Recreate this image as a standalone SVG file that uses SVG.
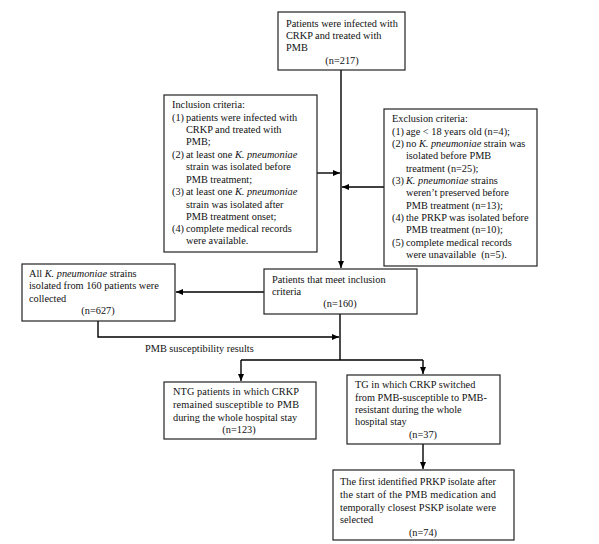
<svg xmlns="http://www.w3.org/2000/svg" width="599" height="544" viewBox="0 0 599 544">
<defs>
<marker id="ah" markerUnits="userSpaceOnUse" markerWidth="8" markerHeight="7" refX="7" refY="3" orient="auto">
<path d="M0,0 L7,3 L0,6 z" fill="#000"/>
</marker>
<style>
.box{fill:#fff;stroke:#222;stroke-width:1.2}
.t{font-family:"Liberation Serif","Times New Roman",serif;font-size:10.3px;fill:#111}
.i{font-style:italic}
.c{text-anchor:middle}
.ln{fill:none;stroke:#000;stroke-width:1.4}
</style>
</defs>
<rect width="599" height="544" fill="#fff"/>
<g id="connectors">
<path class="ln" d="M341 70 V268" marker-end="url(#ah)"/>
<path class="ln" d="M317 173 H340" marker-end="url(#ah)"/>
<path class="ln" d="M384 187 H342" marker-end="url(#ah)"/>
<path class="ln" d="M264 292 H176" marker-end="url(#ah)"/>
<path class="ln" d="M98 321 V337 H339" marker-end="url(#ah)"/>
<path class="ln" d="M340 314 V360 M241 360 H423"/>
<path class="ln" d="M241 360 V381" marker-end="url(#ah)"/>
<path class="ln" d="M423 360 V374" marker-end="url(#ah)"/>
<path class="ln" d="M423 444 V469" marker-end="url(#ah)"/>
</g>
<g id="n-top">
<rect class="box" x="278" y="12" width="127" height="58"/>
<text class="t" x="286" y="27">Patients were infected with</text>
<text class="t" x="286" y="39">CRKP and treated with</text>
<text class="t" x="286" y="51">PMB</text>
<text class="t c" x="342" y="64">(n=217)</text>
</g>
<g id="n-inclusion">
<rect class="box" x="164" y="95" width="153" height="157"/>
<text class="t" x="172" y="108">Inclusion criteria:</text>
<text class="t" x="172" y="121">(1)</text><text class="t" x="186" y="121">patients were infected with</text>
<text class="t" x="186" y="133">CRKP and treated with</text>
<text class="t" x="186" y="145">PMB;</text>
<text class="t" x="172" y="158">(2)</text><text class="t" x="186" y="158">at least one <tspan class="i">K. pneumoniae</tspan></text>
<text class="t" x="186" y="170">strain was isolated before</text>
<text class="t" x="186" y="183">PMB treatment;</text>
<text class="t" x="172" y="195">(3)</text><text class="t" x="186" y="195">at least one <tspan class="i">K. pneumoniae</tspan></text>
<text class="t" x="186" y="208">strain was isolated after</text>
<text class="t" x="186" y="220">PMB treatment onset;</text>
<text class="t" x="172" y="232">(4)</text><text class="t" x="186" y="232">complete medical records</text>
<text class="t" x="186" y="244">were available.</text>
</g>
<g id="n-exclusion">
<rect class="box" x="384" y="109" width="153" height="157"/>
<text class="t" x="392" y="122">Exclusion criteria:</text>
<text class="t" x="392" y="135">(1)</text><text class="t" x="406" y="135">age &lt; 18 years old (n=4);</text>
<text class="t" x="392" y="147">(2)</text><text class="t" x="406" y="147">no <tspan class="i">K. pneumoniae</tspan> strain was</text>
<text class="t" x="406" y="159">isolated before PMB</text>
<text class="t" x="406" y="172">treatment (n=25);</text>
<text class="t" x="392" y="184">(3)</text><text class="t" x="406" y="184"><tspan class="i">K. pneumoniae</tspan> strains</text>
<text class="t" x="406" y="196">weren’t preserved before</text>
<text class="t" x="406" y="209">PMB treatment (n=13);</text>
<text class="t" x="392" y="221">(4)</text><text class="t" x="406" y="221">the PRKP was isolated before</text>
<text class="t" x="406" y="233">PMB treatment (n=10);</text>
<text class="t" x="392" y="246">(5)</text><text class="t" x="406" y="246">complete medical records</text>
<text class="t" x="406" y="258">were unavailable&#160; (n=5).</text>
</g>
<g id="n-meet">
<rect class="box" x="264" y="269" width="153" height="45"/>
<text class="t" x="272" y="283">Patients that meet inclusion</text>
<text class="t" x="272" y="295">criteria</text>
<text class="t c" x="340" y="307">(n=160)</text>
</g>
<g id="n-strains">
<rect class="box" x="22" y="264" width="153" height="57"/>
<text class="t" x="29" y="277">All <tspan class="i">K. pneumoniae</tspan> strains</text>
<text class="t" x="29" y="289">isolated from 160 patients were</text>
<text class="t" x="29" y="302">collected</text>
<text class="t c" x="98" y="314">(n=627)</text>
</g>
<g id="l-pmb">
<text class="t" x="145" y="352">PMB susceptibility results</text>
</g>
<g id="n-ntg">
<rect class="box" x="164" y="382" width="152" height="57"/>
<text class="t" x="173" y="395" textLength="126" lengthAdjust="spacing">NTG patients in which CRKP</text>
<text class="t" x="173" y="408" textLength="126" lengthAdjust="spacing">remained susceptible to PMB</text>
<text class="t" x="173" y="421">during the whole hospital stay</text>
<text class="t c" x="239" y="433">(n=123)</text>
</g>
<g id="n-tg">
<rect class="box" x="347" y="375" width="153" height="69"/>
<text class="t" x="355" y="388">TG in which CRKP switched</text>
<text class="t" x="355" y="401">from PMB-susceptible to PMB-</text>
<text class="t" x="355" y="413">resistant during the whole</text>
<text class="t" x="355" y="425">hospital stay</text>
<text class="t c" x="423" y="438">(n=37)</text>
</g>
<g id="n-final">
<rect class="box" x="333" y="470" width="181" height="70"/>
<text class="t" x="340" y="485">The first identified PRKP isolate after</text>
<text class="t" x="340" y="498" textLength="156" lengthAdjust="spacing">the start of the PMB medication and</text>
<text class="t" x="340" y="511" textLength="156" lengthAdjust="spacing">temporally closest PSKP isolate were</text>
<text class="t" x="340" y="523">selected</text>
<text class="t c" x="423" y="536">(n=74)</text>
</g>
</svg>
